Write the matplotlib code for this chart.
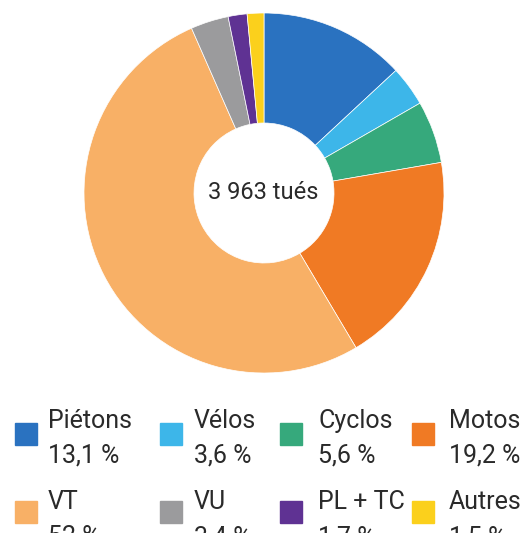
import matplotlib
matplotlib.use("Agg")
import matplotlib.pyplot as plt
from matplotlib.patches import Rectangle

categories = ["Piétons", "Vélos", "Cyclos", "Motos", "VT", "VU", "PL + TC", "Autres"]
values = [13.1, 3.6, 5.6, 19.2, 52.0, 3.4, 1.7, 1.5]
pct_labels = ["13,1 %", "3,6 %", "5,6 %", "19,2 %", "52 %", "3,4 %", "1,7 %", "1,5 %"]
colors = ["#2a72c0", "#3db6e9", "#36a97c", "#f07a24", "#f8b066", "#9b9b9d", "#5f3293", "#fbd01c"]
center_text = "3 963 tués"

plt.rcParams['font.family'] = ['Roboto', 'DejaVu Sans']
W, H = 521, 533
fig = plt.figure(figsize=(W/100, H/100), dpi=100)

cx, cy, R = 264, 193, 180
ax = fig.add_axes([(cx-R)/W, (H-cy-R)/H, 2*R/W, 2*R/H])
ax.pie(values, colors=colors, startangle=90, counterclock=False,
       wedgeprops=dict(width=110/180, edgecolor='white', linewidth=0.5), radius=1.0)
ax.set_xlim(-1, 1); ax.set_ylim(-1, 1)
ax.set_aspect('equal')

lax = fig.add_axes([0, 0, 1, 1])
lax.set_xlim(0, W); lax.set_ylim(H, 0)
lax.axis('off')
lax.text(263, 199, center_text, ha='center', va='baseline', fontsize=17, color='#2a2a2a')

sq_x = [15, 160, 280, 412]
tx_x = [48, 194, 318, 449]
sq_y = [434, 512]
name_base = [428, 509]
pct_base = [463, 544]
for i, (name, pct, c) in enumerate(zip(categories, pct_labels, colors)):
    r, col = divmod(i, 4)
    lax.add_patch(Rectangle((sq_x[col], sq_y[r]-11), 22, 22, color=c))
    lax.text(tx_x[col], name_base[r], name, ha='left', va='baseline', fontsize=18, color='#2a2a2a')
    lax.text(tx_x[col], pct_base[r], pct, ha='left', va='baseline', fontsize=18, color='#2a2a2a')

fig.savefig("out.png", dpi=100)
